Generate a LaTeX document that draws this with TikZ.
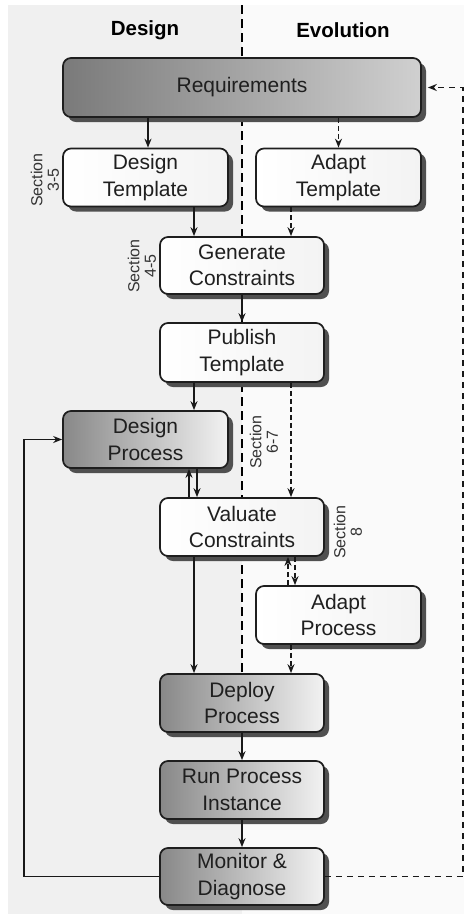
\documentclass[tikz,border=0pt]{standalone}
\usepackage{fontspec}
\setmainfont{Liberation Sans}
\usetikzlibrary{shadows,arrows.meta,calc}
\definecolor{leftbg}{HTML}{F0F0F0}
\definecolor{rightbg}{HTML}{FAFAFA}
\definecolor{edge}{HTML}{1E1E1E}
\definecolor{shadowc}{HTML}{505050}
\definecolor{reqL}{HTML}{7A7A7A}
\definecolor{reqR}{HTML}{D0D0D0}
\definecolor{grayL}{HTML}{888888}
\definecolor{grayR}{HTML}{F2F2F2}
\definecolor{whiteR}{HTML}{F3F3F3}
\tikzset{
  box/.style={draw=edge, line width=1.7pt, rounded corners=8pt, align=center,
    font=\fontsize{21}{26.5}\selectfont, inner sep=0pt, text=black!88,
    drop shadow={shadow xshift=5pt, shadow yshift=-5pt, fill=shadowc, opacity=1}},
  whitebox/.style={box, left color=white, right color=whiteR, minimum width=164pt, minimum height=58pt},
  graybox/.style={box, left color=grayL, right color=grayR, minimum width=164pt, minimum height=58pt},
  arr/.style={line width=1.5pt, draw=black!90, -{Stealth[length=9pt,width=7pt]}},
  darr/.style={arr, dash pattern=on 5pt off 3pt},
  seclabel/.style={rotate=90, align=center, font=\fontsize{16}{16.5}\selectfont, text=black!80},
  header/.style={font=\fontsize{20.5}{24}\selectfont\bfseries}
}
\begin{document}
\begin{tikzpicture}[x=1pt,y=-1pt]
\useasboundingbox (0,0) rectangle (464,914);
\fill[white] (0,0) rectangle (464,914);
\fill[leftbg] (8,5) rectangle (242,914);
\fill[rightbg] (242,5) rectangle (464,914);
\coordinate (divtop) at (242,5);
\coordinate (divbot) at (242,674);
\draw[line width=1.4pt, dash pattern=on 9pt off 5pt] (divtop) -- (divbot);

\node[header] (hdesign) at (145,30) {Design};
\node[header] (hevol) at (343,30) {Evolution};

\node[box, left color=reqL, right color=reqR, minimum width=358pt, minimum height=59pt] (req) at (242,87.5) {Requirements};
\node[whitebox, minimum width=165pt] (dt) at (145.5,177.5) {Design\\Template};
\node[whitebox, minimum width=165pt] (at) at (338.5,177.5) {Adapt\\Template};
\node[whitebox, minimum height=57pt] (gc) at (242,265.5) {Generate\\Constraints};
\node[whitebox, minimum height=59pt] (pt) at (242,352.5) {Publish\\Template};
\node[graybox, minimum width=165pt, minimum height=57pt] (dp) at (145.5,439.5) {Design\\Process};
\node[whitebox] (vc) at (242,527) {Valuate\\Constraints};
\node[whitebox, minimum width=165pt] (ap) at (338.5,615) {Adapt\\Process};
\node[graybox] (dep) at (242,703) {Deploy\\Process};
\node[graybox] (run) at (242,790) {Run Process\\Instance};
\node[graybox, minimum height=57pt] (mon) at (242,876.5) {Monitor \&\\Diagnose};

\node[seclabel] (s35) at (45,180) {Section\\3-5};
\node[seclabel] (s45) at (142,266) {Section\\4-5};
\node[seclabel] (s67) at (264,442) {Section\\6-7};
\node[seclabel] (s8) at (348,532) {Section\\8};

\draw[arr] ([xshift=2.5pt]dt.north |- req.south) -- ([xshift=2.5pt]dt.north);
\draw[darr] (at.north |- req.south) -- (at.north);
\draw[arr] ([xshift=-48pt]gc.north |- dt.south) -- ([xshift=-48pt]gc.north);
\draw[darr] ([xshift=49pt]gc.north |- at.south) -- ([xshift=49pt]gc.north);
\draw[arr] (gc.south) -- (pt.north);
\draw[arr] ([xshift=-48pt]pt.south) -- ([xshift=-48pt]pt.south |- dp.north);
\draw[darr] ([xshift=49pt]pt.south) -- ([xshift=49pt]vc.north);
\draw[arr] ([xshift=-53pt]vc.north) -- ([xshift=-53pt]vc.north |- dp.south);
\draw[arr] ([xshift=-45pt]vc.north |- dp.south) -- ([xshift=-45pt]vc.north);
\draw[arr] ([xshift=-48pt]vc.south) -- ([xshift=-48pt]dep.north);
\draw[darr] ([xshift=46pt]vc.south |- ap.north) -- ([xshift=46pt]vc.south);
\draw[darr] ([xshift=53pt]vc.south) -- ([xshift=53pt]vc.south |- ap.north);
\draw[darr] ([xshift=49pt]dep.north |- ap.south) -- ([xshift=49pt]dep.north);
\draw[arr] (dep.south) -- (run.north);
\draw[arr] (run.south) -- (mon.north);
\draw[arr, line width=1.7pt] (mon.west) -- ++(-135,0) |- (dp.west);
\draw[darr, line width=1.7pt, dash pattern=on 6pt off 5pt] (mon.east) -- ++(138,0) |- ([xshift=6pt]req.east);
\end{tikzpicture}
\end{document}
